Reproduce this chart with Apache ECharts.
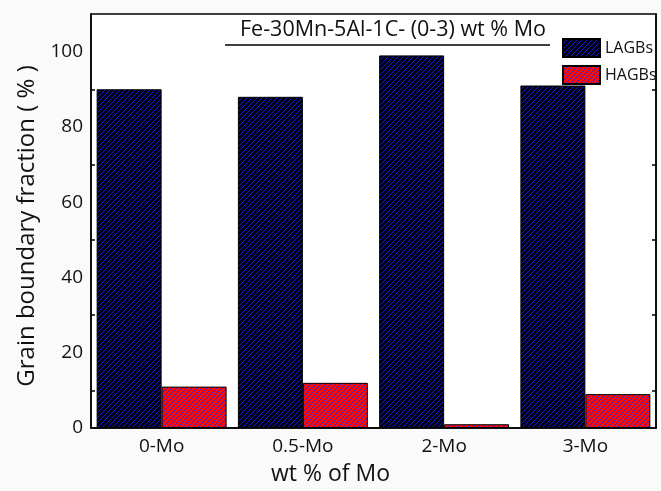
<!DOCTYPE html>
<html lang="en">
<head>
    <meta charset="UTF-8">
    <script src="https://cdn.jsdelivr.net/npm/echarts@6/dist/echarts.min.js"></script>
    <title>Grain boundary fraction</title>
    <style>
        html, body { margin: 0; padding: 0; background: #fafafa; }
    </style>
</head>
<body>
    <div id="main" style="width: 661px;height:491px;"></div>
    <script type="text/javascript">
        var categories = ['0-Mo', '0.5-Mo', '2-Mo', '3-Mo'];
        var lagbs = [90, 88, 99, 91];
        var hagbs = [11, 12, 1, 9];

        // hatched fill: background colour with "/" diagonal lines
        function hatch(bg, line) {
            var s = 5;
            var c = document.createElement('canvas');
            c.width = s; c.height = s;
            var ctx = c.getContext('2d');
            ctx.fillStyle = bg;
            ctx.fillRect(0, 0, s, s);
            ctx.strokeStyle = line;
            ctx.lineWidth = 1;
            ctx.beginPath();
            ctx.moveTo(-1, s + 1); ctx.lineTo(s + 1, -1);
            ctx.moveTo(-1, 1); ctx.lineTo(1, -1);
            ctx.moveTo(s - 1, s + 1); ctx.lineTo(s + 1, s - 1);
            ctx.stroke();
            return { image: c, repeat: 'repeat' };
        }

        var myChart = echarts.init(document.getElementById('main'));
        var font = '"Open Sans", sans-serif';

        var option = {
            backgroundColor: '#fafafa',
            animation: false,
            grid: { left: 91, right: 5, top: 14, bottom: 60, show: true, backgroundColor: '#fff', borderColor: '#000', borderWidth: 1.5 },
            legend: {
                orient: 'vertical', left: 557, top: 33, itemWidth: 37, itemHeight: 18, itemGap: 7,
                icon: 'rect',
                textStyle: { fontFamily: font, fontSize: 16, color: '#111' },
                data: ['LAGBs', 'HAGBs']
            },
            xAxis: {
                type: 'category', data: categories,
                name: 'wt % of Mo', nameLocation: 'middle', nameGap: 35,
                nameTextStyle: { fontFamily: font, fontSize: 23, color: '#111', padding: [0, 86, 0, 0] },
                axisLine: { lineStyle: { color: '#000', width: 1.5 } },
                axisTick: { inside: true, length: 7, lineStyle: { color: '#000', width: 1.5 } },
                axisLabel: { fontFamily: font, fontSize: 19, color: '#111', margin: 9 }
            },
            yAxis: [{
                type: 'value', min: 0, max: 110, interval: 20,
                name: 'Grain boundary fraction ( % )', nameLocation: 'middle', nameGap: 50,
                nameTextStyle: { fontFamily: font, fontSize: 24, color: '#111', padding: [0, 10, 0, 0] },
                axisLine: { show: true, lineStyle: { color: '#000', width: 1.5 } },
                axisTick: { inside: true, length: 6, lineStyle: { color: '#000', width: 1.5 } },
                minorTick: { show: true, splitNumber: 2, length: 4, lineStyle: { color: '#000', width: 1.5 } },
                axisLabel: { fontFamily: font, fontSize: 19, color: '#111', margin: 8, showMaxLabel: false },
                splitLine: { show: false }
            }, {
                type: 'value', min: 0, max: 110, interval: 20, position: 'right',
                axisLine: { show: true, lineStyle: { color: '#000', width: 1.5 } },
                axisTick: { inside: true, length: 6, lineStyle: { color: '#000', width: 1.5 } },
                minorTick: { show: true, splitNumber: 2, length: 4, lineStyle: { color: '#000', width: 1.5 } },
                axisLabel: { show: false },
                splitLine: { show: false }
            }],
            graphic: [
                { type: 'text', left: 240, top: 19, style: { text: 'Fe-30Mn-5Al-1C- (0-3) wt % Mo', font: '21.5px "Open Sans", sans-serif', fill: '#111' } },
                { type: 'line', shape: { x1: 225, y1: 45, x2: 550, y2: 45 }, style: { stroke: '#000', lineWidth: 1.5 } }
            ],
            series: [{
                name: 'LAGBs', type: 'bar', data: lagbs, barGap: '0%', barCategoryGap: '8%',
                itemStyle: { color: hatch('#000016', '#1a1ad0'), borderColor: '#000', borderWidth: 1 }
            }, {
                name: 'HAGBs', type: 'bar', data: hagbs,
                itemStyle: { color: hatch('#ff0a0a', '#3020c0'), borderColor: '#000', borderWidth: 1 }
            }]
        };

        myChart.setOption(option);
    </script>
</body>
</html>
